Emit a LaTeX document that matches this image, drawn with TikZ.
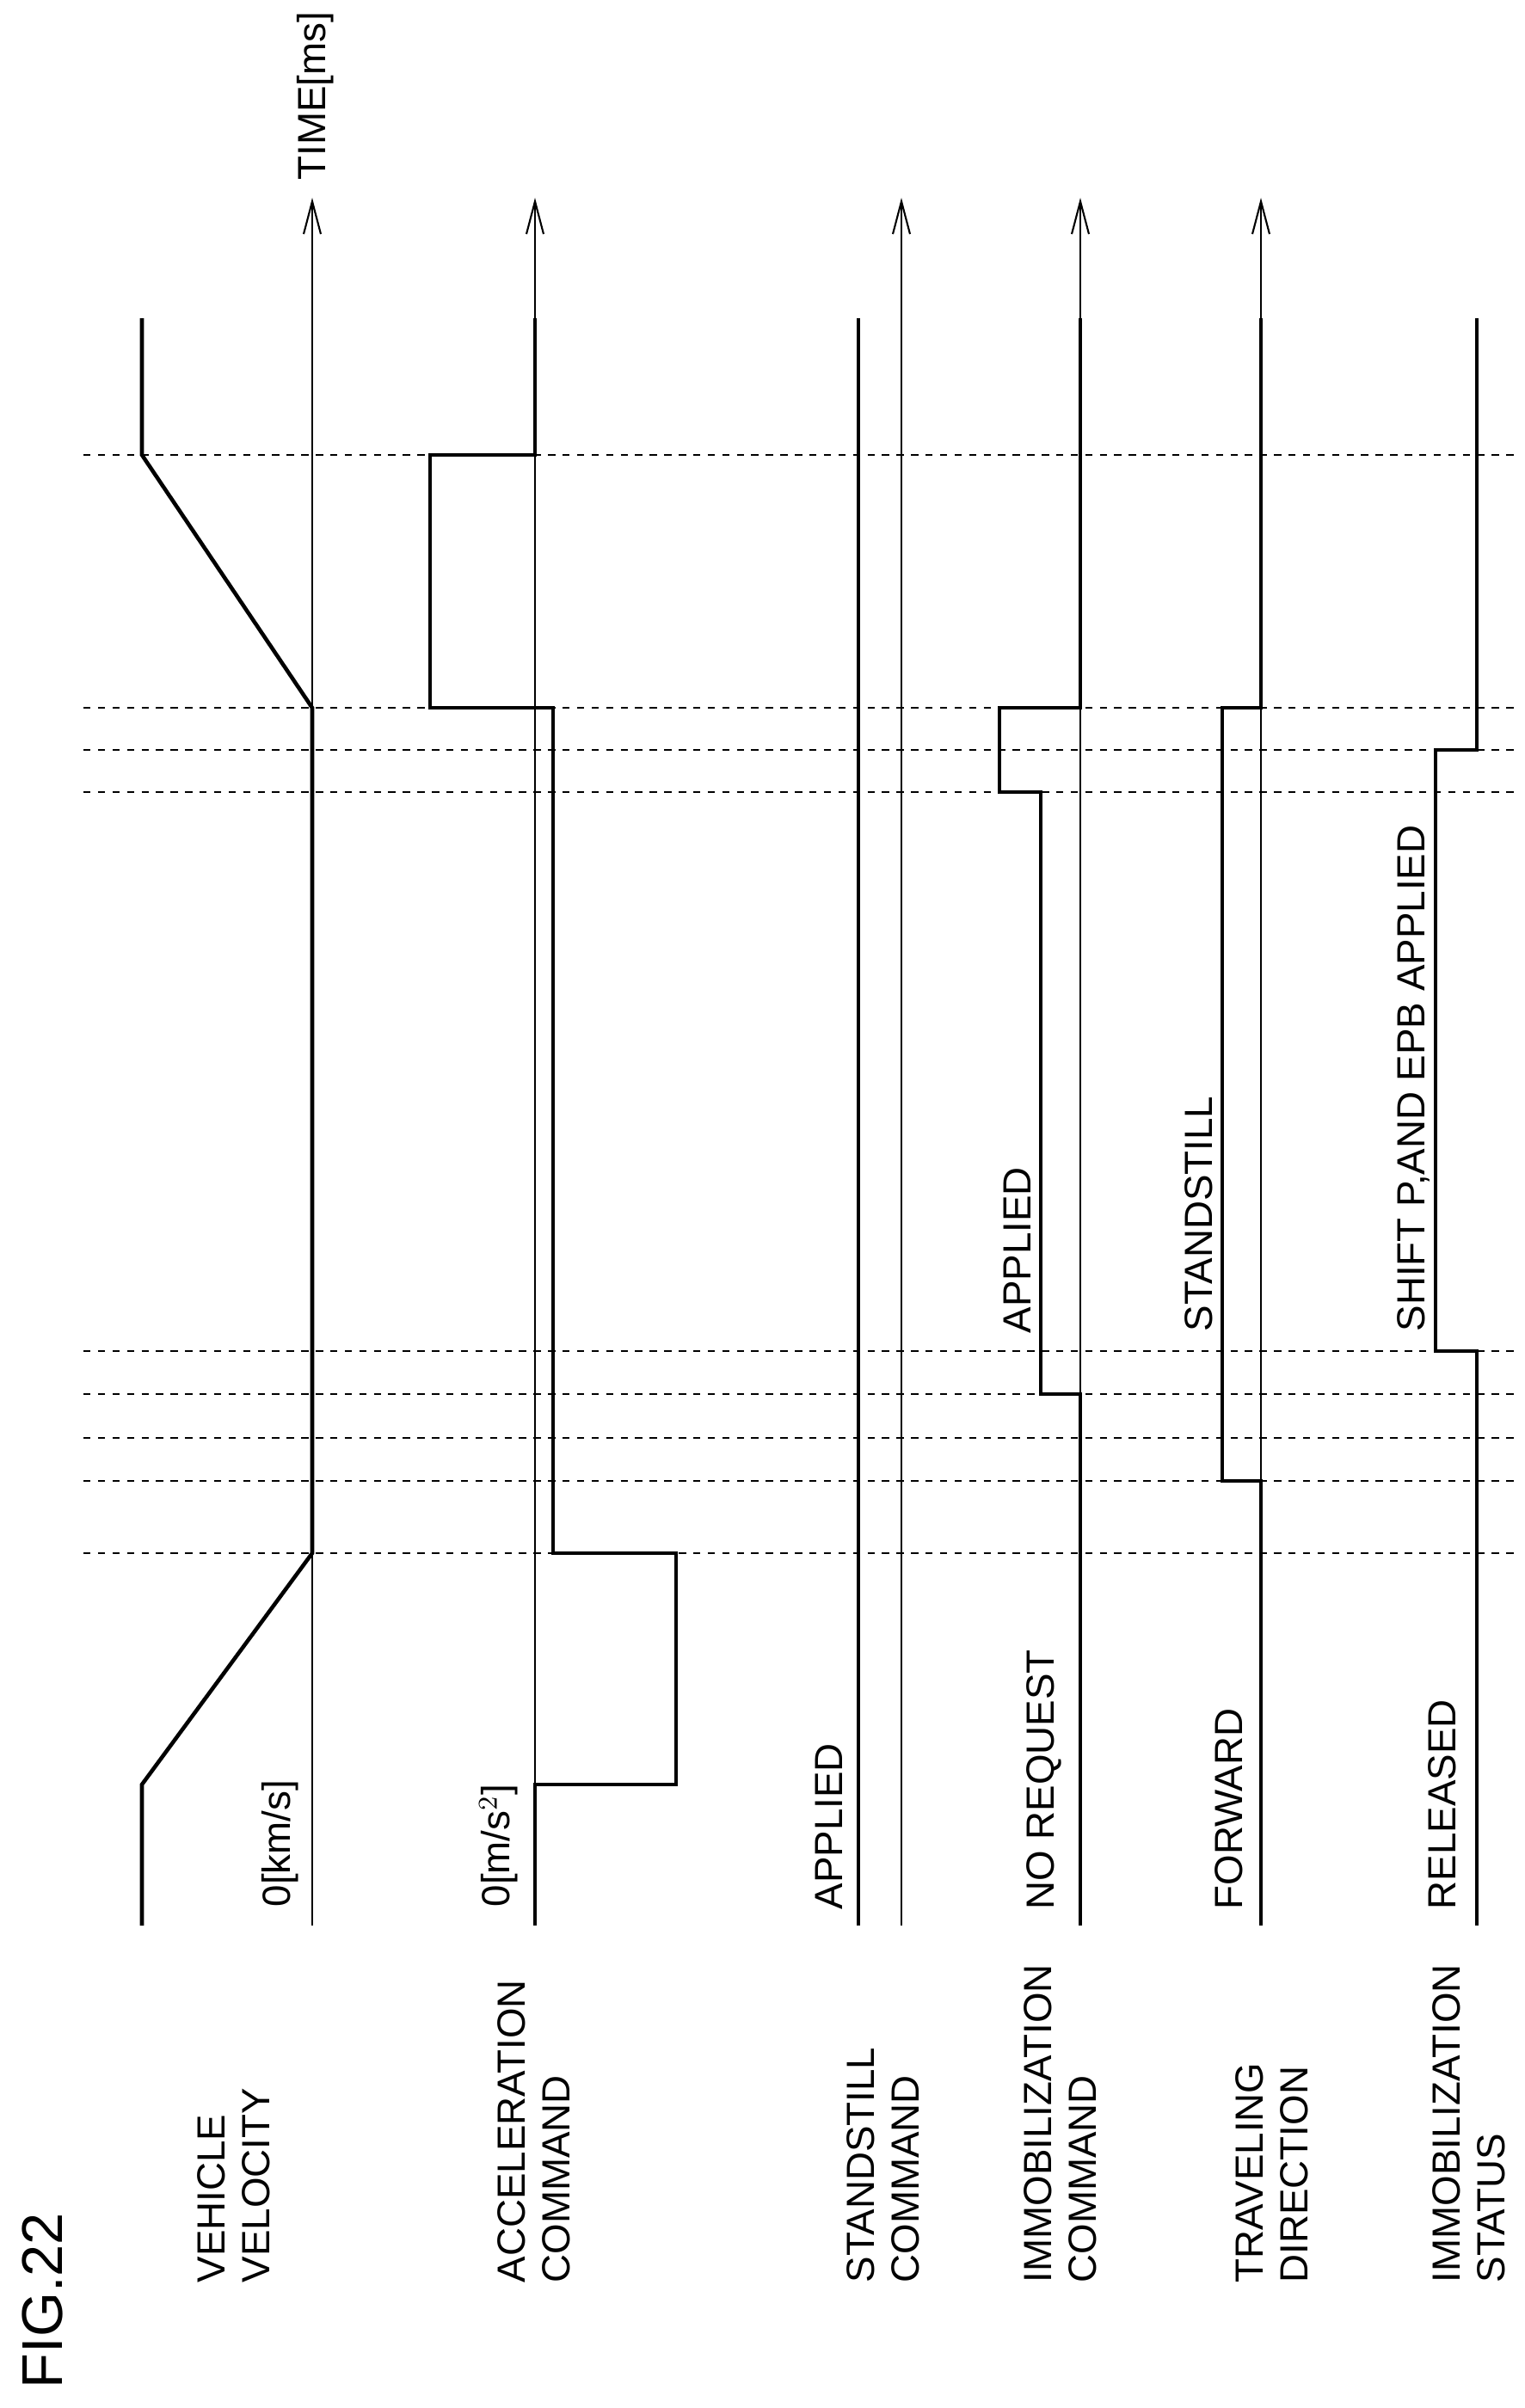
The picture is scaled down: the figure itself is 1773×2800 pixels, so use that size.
\documentclass[tikz,border=0pt]{standalone}
\usepackage{fontspec}
\setmainfont{Liberation Sans}
\usetikzlibrary{arrows.meta}

\tikzset{
  axisline/.style={line width=0.6pt, -{Straight Barb[length=0.38cm, width=0.2cm]}},
  signal/.style={line width=1.3pt, line join=miter},
  marker/.style={line width=0.6pt, dash pattern=on 2.4pt off 2.4pt},
  lbl/.style={rotate=90, anchor=south west, inner sep=0pt, align=left,
    font=\fontsize{13}{15}\selectfont}
}

\begin{document}
\begin{tikzpicture}[x=0.01cm, y=-0.01cm]
    \useasboundingbox (0,0) rectangle (1773,2800);

    % time markers
    \foreach \t in {529,823,872,921,1571,1621,1672,1722,1806}
        \draw[marker] (97,\t) -- (1762,\t);

    % time axes
    \foreach \ax/\nm in {363/vel,622/acc,1048/stand,1256/immo,1466/dir}
    {
        \coordinate (\nm0) at (\ax,2239);
        \coordinate (\nm1) at (\ax,230);
        \draw[axisline] (\nm0) -- (\nm1);
    }
    \node[lbl] (time) at (389,210) {TIME[ms]};

    % vehicle velocity
    \draw[signal] (165,2239) -- (165,2075) -- (363,1806) -- (363,823)
        -- (165,529) -- (165,370);
    \node[lbl] (vzero) at (348,2218) {0[km/s]};

    % acceleration command
    \draw[signal] (622,2239) -- (622,2075) -- (786,2075) -- (786,1806)
        -- (643,1806) -- (643,823) -- (500,823) -- (500,529) -- (622,529) -- (622,370);
    \node[lbl] (azero) at (603,2218) {0[m/s$^2$]};

    % standstill command
    \draw[signal] (998,2239) -- (998,370);
    \node[lbl] (sapp) at (980,2221) {APPLIED};

    % immobilization command
    \draw[signal] (1256,2239) -- (1256,1621) -- (1210,1621) -- (1210,921)
        -- (1162,921) -- (1162,823) -- (1256,823) -- (1256,370);
    \node[lbl] (noreq) at (1235,2221) {NO REQUEST};
    \node[lbl] (iapp) at (1199,1551) {APPLIED};

    % traveling direction
    \draw[signal] (1466,2239) -- (1466,1722) -- (1421,1722) -- (1421,823)
        -- (1466,823) -- (1466,370);
    \node[lbl] (fwd) at (1446,2221) {FORWARD};
    \node[lbl] (still) at (1411,1549) {STANDSTILL};

    % immobilization status
    \draw[signal] (1717,2239) -- (1717,1571) -- (1669,1571) -- (1669,872)
        -- (1717,872) -- (1717,370);
    \node[lbl] (rel) at (1694,2221) {RELEASED};
    \node[lbl] (shift) at (1663,1549) {SHIFT P,AND EPB APPLIED};

    % signal names
    \node[lbl] (velname) at (315,2655) {VEHICLE\\VELOCITY};
    \node[lbl] (accname) at (664,2655) {ACCELERATION\\COMMAND};
    \node[lbl] (stdname) at (1070,2655) {STANDSTILL\\COMMAND};
    \node[lbl] (imcname) at (1276,2655) {IMMOBILIZATION\\COMMAND};
    \node[lbl] (dirname) at (1522,2655) {TRAVELING\\DIRECTION};
    \node[lbl] (imsname) at (1751,2655) {IMMOBILIZATION\\STATUS};

    \node[lbl, font=\fontsize{19}{21}\selectfont] (fig) at (74,2778) {FIG.22};
\end{tikzpicture}
\end{document}
